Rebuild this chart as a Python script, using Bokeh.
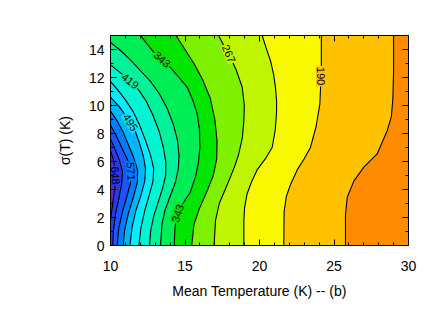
from bokeh.plotting import figure
from bokeh.models import FixedTicker, LinearAxis, Range1d, ColumnDataSource
from bokeh.core.properties import value
from bokeh.embed import file_html
from bokeh.resources import INLINE

# ---- axes ----
X_START, X_END = 10, 30
Y_START, Y_END = 0, 15
X_TICKS = [10, 15, 20, 25, 30]
X_MINOR = list(range(10, 31))
Y_TICKS = [0, 2, 4, 6, 8, 10, 12, 14]
Y_MINOR = list(range(0, 16))

# ---- contour levels and band colours (band 0 = below first level) ----
LEVELS = [152, 190, 228, 267, 305, 343, 381, 419, 457, 495, 533, 571, 610, 648]
BAND_COLORS = ["#FF8C00", "#FFC200", "#F8F800", "#BFF500", "#7FF000", "#00E600",
               "#00EE55", "#00F29A", "#00F5D2", "#00EEFF", "#00B5FF", "#007CFF",
               "#1A55FF", "#2A38E8", "#5A2ACD"]

# ---- contour lines: (mean T, sigma T) vertices ----
C152 = [(29.0, 15), (29.0, 12.5), (28.95, 10.5), (28.85, 9.2), (28.57, 8.2), (27.9, 6.55),
        (27.0, 5.6), (26.33, 4.6), (25.89, 3.45), (25.77, 2.2), (25.77, 0)]
C190 = [(24.15, 15), (24.15, 12.5), (24.05, 10.1), (23.8, 8.5), (23.42, 7.0), (23.0, 6.2),
        (22.53, 5.4), (22.1, 4.4), (21.8, 3.5), (21.65, 2.4), (21.63, 0)]
C228 = [(20.18, 15), (20.45, 14.1), (20.74, 13.2), (20.95, 12.2), (21.07, 11.3), (21.15, 10.3),
        (21.14, 9.4), (21.05, 8.2), (20.85, 7.0), (20.4, 6.2), (19.84, 5.4), (19.45, 4.5),
        (19.17, 3.7), (19.0, 2.7), (18.95, 1.8), (18.95, 0)]
C267 = [(17.25, 15), (17.55, 14.4), (17.94, 13.7), (18.45, 12.5), (18.84, 11.3), (18.98, 10.0),
        (18.95, 8.9), (18.85, 7.7), (18.6, 6.5), (18.35, 5.7), (18.05, 4.9), (17.7, 4.0),
        (17.3, 3.0), (17.05, 1.8), (16.95, 0)]
C305 = [(14.4, 15), (15.0, 14.0), (15.6, 13.0), (16.2, 11.8), (16.7, 10.5), (17.0, 9.0),
        (17.15, 7.5), (17.13, 6.2), (16.9, 5.0), (16.45, 3.8), (15.95, 2.6), (15.6, 1.5),
        (15.45, 0)]
C343 = [(12.01, 15), (12.45, 14.4), (12.91, 13.8), (13.47, 13.3), (14.03, 12.7), (14.6, 12.0),
        (15.15, 11.3), (15.55, 10.3), (15.82, 9.4), (15.98, 8.2), (16.0, 7.0), (15.9, 5.9),
        (15.7, 4.9), (15.35, 3.8), (14.85, 3.0), (14.5, 2.3), (14.33, 1.3), (14.27, 0)]
C381 = [(10.0, 14.5), (10.6, 14.0), (11.3, 13.3), (12.0, 12.5), (12.7, 11.7), (13.3, 10.8),
        (13.8, 9.8), (14.2, 8.7), (14.5, 7.5), (14.6, 6.4), (14.55, 5.5), (14.35, 4.5),
        (14.0, 3.5), (13.65, 2.5), (13.45, 1.5), (13.36, 0)]
C419 = [(10.0, 12.9), (10.65, 12.35), (11.32, 11.76), (11.9, 11.1), (12.4, 10.3), (12.85, 9.3),
        (13.25, 8.2), (13.55, 7.0), (13.72, 5.9), (13.7, 5.0), (13.5, 4.1), (13.2, 3.1),
        (12.9, 2.1), (12.7, 1.1), (12.62, 0)]
C457 = [(10.0, 11.7), (10.5, 11.1), (11.0, 10.4), (11.5, 9.6), (11.95, 8.6), (12.35, 7.5),
        (12.7, 6.4), (12.9, 5.5), (12.85, 4.6), (12.6, 3.6), (12.3, 2.5), (12.05, 1.3),
        (11.9, 0)]
C495 = [(10.0, 10.6), (10.6, 9.9), (11.0, 9.3), (11.34, 8.8), (11.65, 8.2), (11.95, 7.3),
        (12.2, 6.4), (12.35, 5.5), (12.3, 4.6), (12.05, 3.6), (11.7, 2.5), (11.45, 1.3),
        (11.3, 0)]
C533 = [(10.0, 9.6), (10.45, 8.9), (10.85, 8.1), (11.2, 7.2), (11.55, 6.3), (11.82, 5.4),
        (11.8, 4.5), (11.55, 3.5), (11.2, 2.3), (10.95, 1.1), (10.85, 0)]
C571 = [(10.0, 8.6), (10.4, 7.8), (10.8, 6.9), (11.15, 6.1), (11.38, 5.4), (11.35, 4.5),
        (11.1, 3.5), (10.8, 2.4), (10.55, 1.2), (10.45, 0)]
C610 = [(10.0, 7.6), (10.3, 6.9), (10.6, 6.1), (10.8, 5.3), (10.75, 4.4), (10.55, 3.3),
        (10.33, 2.2), (10.2, 1.1), (10.15, 0)]
C648 = [(10.0, 6.8), (10.2, 6.1), (10.35, 5.2), (10.3, 4.2), (10.15, 3.0), (10.0, 1.8)]

CONTOURS = [C152, C190, C228, C267, C305, C343, C381, C419, C457, C495, C533, C571, C610, C648]

# ---- contour labels ----
LABEL_TEXT = ["648", "571", "495", "419", "343", "267", "190", "343"]
LABEL_LEVEL = [648, 571, 495, 419, 343, 267, 190, 343]
LABEL_X = [10.34, 11.38, 11.34, 11.32, 13.47, 17.94, 24.13, 14.5]
LABEL_Y = [5.0, 5.3, 8.8, 11.76, 13.3, 13.7, 12.1, 2.3]
LABEL_ANGLE = [-1.5, -1.5, -1.0, -0.65, -0.72, -1.15, -1.55, 1.25]

FONT = "Liberation Sans"

p = figure(frame_width=298, frame_height=210,
           x_range=Range1d(X_START, X_END), y_range=Range1d(Y_START, Y_END),
           output_backend="svg", toolbar_location=None,
           min_border_left=110, min_border_right=17, min_border_top=35, min_border_bottom=54,
           background_fill_color=BAND_COLORS[0], border_fill_color="white",
           outline_line_color="black", outline_line_width=1)
p.grid.visible = False

# filled bands: region with value above each level, painted low to high
patch_xs, patch_ys, line_xs, line_ys = [], [], [], []
for pts in CONTOURS:
    xs = [pt[0] for pt in pts]
    ys = [pt[1] for pt in pts]
    line_xs.append(xs)
    line_ys.append(ys)
    patch_xs.append(xs + [X_START, X_START])
    patch_ys.append(ys + [ys[-1], ys[0]])

p.patches(patch_xs, patch_ys, fill_color=BAND_COLORS[1:], line_color=None)
p.multi_line(line_xs, line_ys, line_color="black", line_width=1.1)

bg = [BAND_COLORS[LEVELS.index(lv)] for lv in LABEL_LEVEL]
lab_src = ColumnDataSource(dict(x=LABEL_X, y=LABEL_Y, text=LABEL_TEXT,
                                angle=LABEL_ANGLE, bg=bg))
p.text(x="x", y="y", text="text", angle="angle", source=lab_src,
       text_font=value(FONT), text_font_size="11px", text_color="black",
       text_align="center", text_baseline="middle",
       background_fill_color="bg", padding=1)

def style_axis(ax, ticks, minor, show_labels=True):
    ax.ticker = FixedTicker(ticks=ticks, minor_ticks=minor)
    ax.major_tick_in = 6
    ax.major_tick_out = 0
    ax.minor_tick_in = 3
    ax.minor_tick_out = 0
    ax.axis_line_color = "black"
    ax.major_tick_line_color = "black"
    ax.minor_tick_line_color = "black"
    ax.major_label_text_font = FONT
    ax.major_label_text_color = "black"
    ax.axis_label_text_font = FONT
    ax.axis_label_text_font_style = "normal"
    ax.axis_label_text_font_size = "14px"
    ax.axis_label_text_color = "black"
    if show_labels:
        ax.major_label_text_font_size = "14px"
    else:
        ax.major_label_text_font_size = "8px"
        ax.major_label_text_alpha = 0
        ax.major_label_standoff = 0

xa = p.xaxis[0]
style_axis(xa, X_TICKS, X_MINOR)
xa.axis_label = "Mean Temperature (K) -- (b)"
xa.major_label_standoff = 15
xa.axis_label_standoff = 9

ya = p.yaxis[0]
style_axis(ya, Y_TICKS, Y_MINOR)
ya.axis_label = "σ(T) (K)"
ya.major_label_standoff = 6
ya.axis_label_standoff = 13

top = LinearAxis()
style_axis(top, X_TICKS, X_MINOR, show_labels=False)
p.add_layout(top, "above")
right = LinearAxis()
style_axis(right, Y_TICKS, Y_MINOR, show_labels=False)
p.add_layout(right, "right")

open("out.html", "w").write(file_html(p, INLINE))
